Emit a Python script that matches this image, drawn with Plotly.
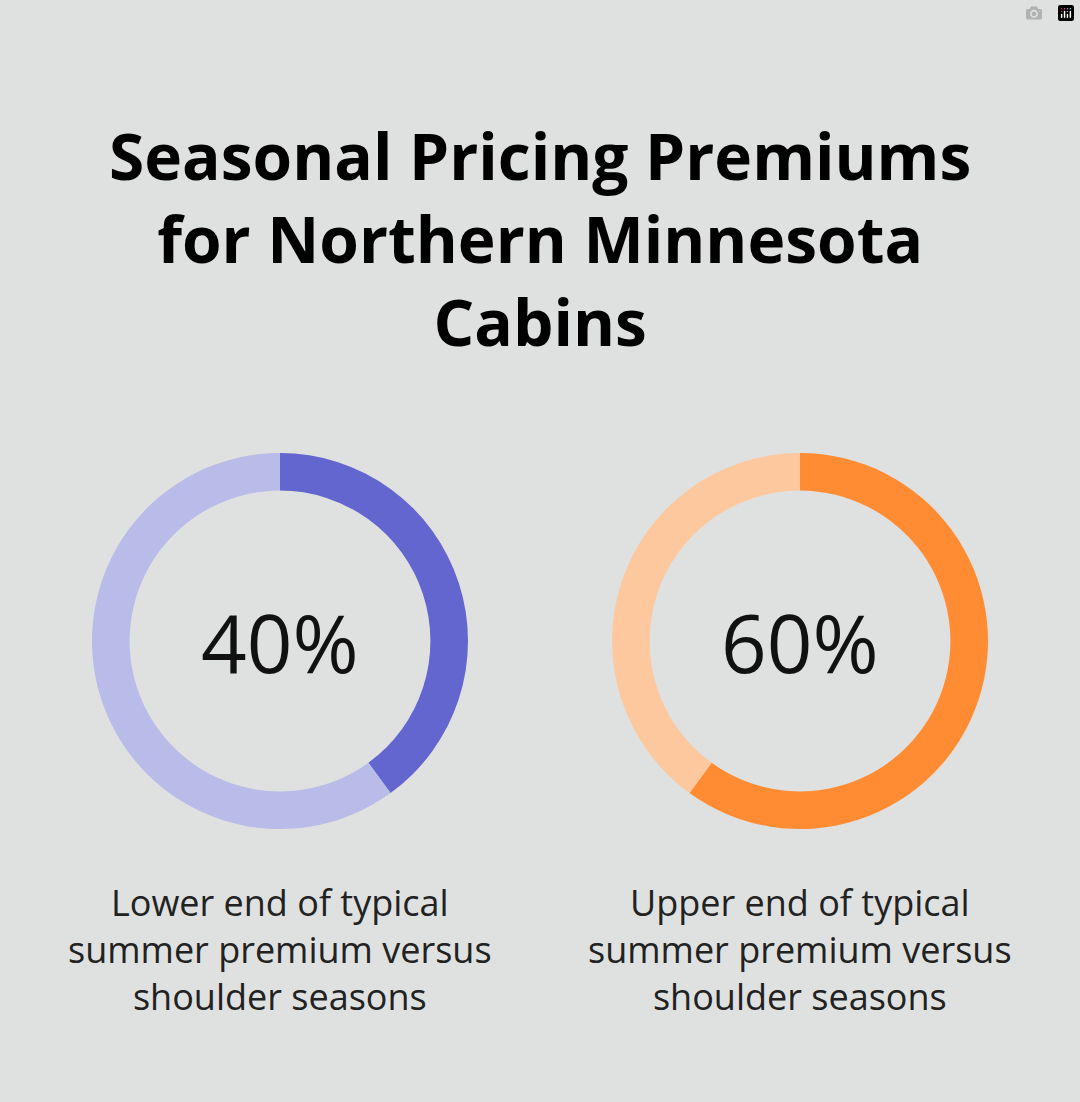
import plotly.graph_objects as go

values = [40, 60]
centers = ["40%", "60%"]
captions = ["Lower end of typical<br>summer premium versus<br>shoulder seasons",
            "Upper end of typical<br>summer premium versus<br>shoulder seasons"]
colors = [("#6366CF", "#B9BBE9"), ("#FF8C33", "#FDC89E")]
title = "Seasonal Pricing Premiums<br>for Northern Minnesota<br>Cabins"

W, H = 1080, 1102
fig = go.Figure()
xdoms = [[92 / W, 468 / W], [612 / W, 988 / W]]
ydom = [1 - 829 / H, 1 - 453 / H]
for i, v in enumerate(values):
    fig.add_trace(go.Pie(values=[v, 100 - v], hole=0.8, sort=False, direction="clockwise",
                         rotation=0, marker=dict(colors=list(colors[i]), line=dict(width=0)),
                         textinfo="none", hoverinfo="none", showlegend=False,
                         domain=dict(x=xdoms[i], y=ydom)))
    cx = (xdoms[i][0] + xdoms[i][1]) / 2
    fig.add_annotation(x=cx, y=1 - 641 / H, xref="paper", yref="paper", text=centers[i],
                       xanchor="center", yanchor="middle",
                       showarrow=False, font=dict(family="Open Sans", size=80, color="#111"))
    fig.add_annotation(x=cx, y=1 - 950 / H, xref="paper", yref="paper", text=captions[i],
                       xanchor="center", yanchor="middle",
                       showarrow=False, font=dict(family="Open Sans", size=36, color="#222"),
                       align="center")
fig.add_annotation(x=0.5, y=1 - 238 / H, xref="paper", yref="paper", text="<b>" + title + "</b>",
                   xanchor="center", yanchor="middle",
                   showarrow=False, font=dict(family="Open Sans", size=64, color="#000"), align="center")
fig.update_layout(width=W, height=H, margin=dict(l=0, r=0, t=0, b=0),
                  paper_bgcolor="#DFE1E0", plot_bgcolor="#DFE1E0")
fig.write_html("out.html", post_script="document.body.style.margin='0';")
